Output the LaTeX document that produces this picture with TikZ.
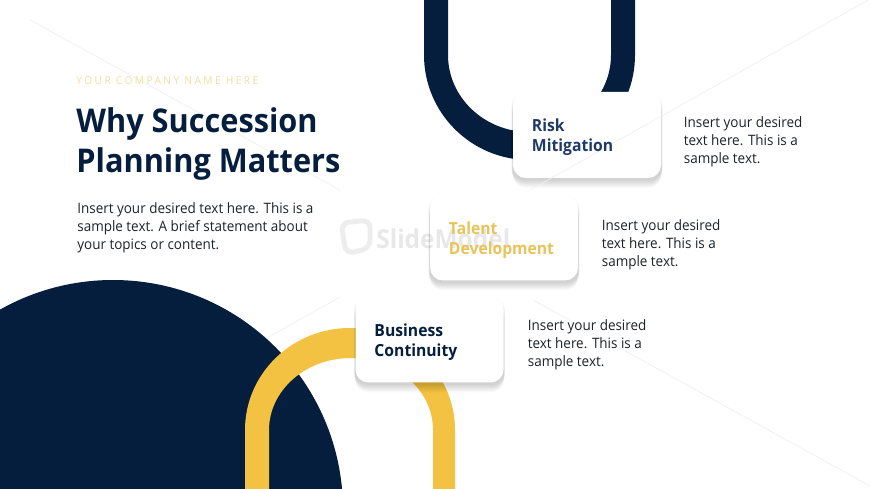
\documentclass[tikz,border=0pt]{standalone}
\usepackage{fontspec}
\setmainfont[FakeStretch=0.94]{Open Sans}
\newfontfamily\kickerfont[LetterSpace=22,FakeStretch=0.94]{Open Sans}
\usetikzlibrary{shadows}
\definecolor{navy}{HTML}{061E3E}
\definecolor{riskblue}{HTML}{1F3A66}
\definecolor{gold}{HTML}{F4C242}
\definecolor{talentgold}{HTML}{E8C35A}
\definecolor{kicker}{HTML}{F0DFA0}
\definecolor{bodyink}{HTML}{1E2328}
\tikzset{
  softshadow/.style 2 args={drop shadow={shadow xshift=0pt,shadow yshift=-#1,shadow scale=#2,opacity=.02,fill=black}},
  cardbox/.style={fill=white,rounded corners=0.26cm,minimum height=1.72cm,minimum width=2.96cm,inner sep=0pt,
    softshadow={0.03cm}{1.02},softshadow={0.05cm}{1.02},softshadow={0.07cm}{1.018},softshadow={0.09cm}{1.016},
    softshadow={0.11cm}{1.014},softshadow={0.13cm}{1.012},softshadow={0.15cm}{1.01},softshadow={0.17cm}{1.008},
    softshadow={0.19cm}{1.005}},
  cardlabel/.style={anchor=west,inner sep=0pt,xshift=0.38cm,yshift=-0.05cm,align=left,
    font=\fontsize{9.5}{11.4}\selectfont\bfseries},
  notetext/.style={anchor=north west,inner sep=0pt,align=left,text=bodyink,
    font=\fontsize{8.15}{10.1}\selectfont},
  faintline/.style={draw=black!6,line width=0.4pt}
}
\begin{document}
\begin{tikzpicture}[scale=0.2]
\useasboundingbox (0,0) rectangle (87,-48.9);
\clip (0,0) rectangle (87,-48.9);
\fill [white] (0,0) rectangle (87,-48.9);
% big disc
\fill [navy] (11.3,-51) circle (23);
% arches
\fill [gold] (24.5,-48.9) -- (24.5,-43) arc [start angle=180,end angle=0,x radius=10.5,y radius=10.2]
  -- (45.5,-48.9) -- (43.3,-48.9) -- (43.3,-43) arc [start angle=0,end angle=180,x radius=8.2,y radius=7.2]
  -- (26.9,-48.9) -- cycle;
\fill [navy] (42.4,0) -- (42.4,-5.5) arc [start angle=180,end angle=360,x radius=10.55,y radius=10.5]
  -- (63.5,0) -- (61.1,0) -- (61.1,-5.5) arc [start angle=0,end angle=-180,x radius=8.15,y radius=7.7]
  -- (44.8,0) -- cycle;
% cards
\node [cardbox] (riskcard) at (58.7,-13.5) {};
\node [cardbox] (talentcard) at (50.4,-23.75) {};
\node [cardbox] (contcard) at (42.95,-33.95) {};
% watermark
\draw [faintline] (3,-2) -- (34,-19);
\draw [faintline] (86.8,0) -- (53,-19);
\draw [faintline] (34,-29.7) -- (26.7,-33.8);
\draw [faintline] (53.3,-30) -- (87,-48.6);
\draw [black!7,line width=2.8pt,rounded corners=0.16cm] (34.1,-22.3) -- (37,-22) -- (37,-24.8) -- (34.6,-25.4) -- cycle;
\node [text=black,opacity=.09,inner sep=0pt,anchor=west,font=\fontsize{14.8}{15}\selectfont\bfseries] (watermark) at (37.6,-23.9) {SlideModel};
% texts
\node [cardlabel,text=riskblue] (risklabel) at (riskcard.west) {Risk\\Mitigation};
\node [cardlabel,text=talentgold] (talentlabel) at (talentcard.west) {Talent\\Development};
\node [cardlabel,text=navy] (contlabel) at (contcard.west) {Business\\Continuity};
\node [anchor=west,inner sep=0pt,text=kicker,font=\fontsize{6.2}{7}\kickerfont] (company) at (7.6,-8.05) {YOUR COMPANY NAME HERE};
\node [anchor=north west,inner sep=0pt,align=left,text=navy,font=\fontsize{18.6}{22.6}\selectfont\bfseries] (title) at (7.6,-10.75) {Why Succession\\Planning Matters};
\node [notetext] (intro) at (7.7,-20.25) {Insert your desired text here. This is a\\sample text. A brief statement about\\your topics or content.};
\node [notetext] (risknote) at (68.35,-11.65) {Insert your desired\\text here. This is a\\sample text.};
\node [notetext] (talentnote) at (60.15,-21.95) {Insert your desired\\text here. This is a\\sample text.};
\node [notetext] (contnote) at (52.75,-31.95) {Insert your desired\\text here. This is a\\sample text.};
\end{tikzpicture}
\end{document}
